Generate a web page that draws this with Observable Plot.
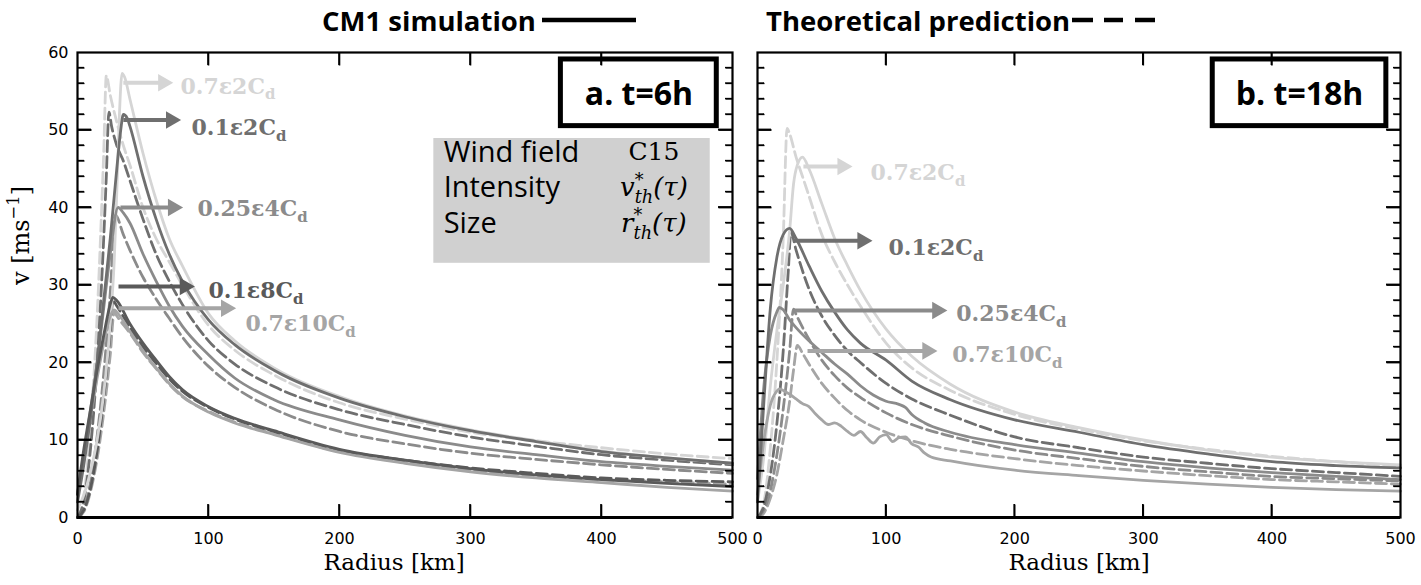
<!DOCTYPE html>
<html><head><meta charset="utf-8">
<script src="https://cdn.jsdelivr.net/npm/d3@7"></script>
<script src="https://cdn.jsdelivr.net/npm/@observablehq/plot@0.6"></script>
<style>
html,body{margin:0;padding:0;background:#fff;}
#fig{position:relative;width:1421px;height:585px;overflow:hidden;background:#fff;}
#fig > svg{position:absolute;top:0;}
</style></head><body><div id="fig"></div>
<script>
// ================= tick values =================
const xTickValues = [0, 100, 200, 300, 400, 500];
const xInnerTicks = [100, 200, 300, 400];
const yTickValues = [0, 10, 20, 30, 40, 50, 60];
const yMajorInner = [10, 20, 30, 40, 50];
const yMinorTicks = [2,4,6,8,12,14,16,18,22,24,26,28,32,34,36,38,42,44,46,48,52,54,56,58];

// ================= experiments =================
const expNames  = ["0.7ε2", "0.7ε10", "0.25ε4", "0.1ε2", "0.1ε8"];
const expColors = ["#d5d5d5", "#a5a5a5", "#8b8b8b", "#6f6f6f", "#5a5a5a"];

// ================= panel a (t = 6 h) =================
const rA_07e2_cm1 = [0, 5, 10, 15, 20, 25, 28, 30, 32, 34, 36, 40, 50, 60, 70, 80, 100, 120, 150, 200, 250, 300, 350, 400, 450, 500];
const vA_07e2_cm1 = [1, 3, 6, 10, 16, 25, 33, 42, 52, 57.3, 56.8, 54, 47, 41, 36, 32.5, 26.3, 22.8, 19.3, 15.6, 13.1, 11.3, 9.9, 8.6, 7.7, 7.0];
const rA_07e2_th  = [0, 5, 10, 15, 18, 20, 22, 25, 30, 35, 40, 50, 60, 70, 80, 100, 120, 150, 200, 250, 300, 350, 400, 450, 500];
const vA_07e2_th  = [0, 3, 12, 26, 38, 47, 57, 54.5, 51, 48, 45.5, 40, 36, 33, 30, 24.8, 21.6, 18.4, 14.8, 12.7, 11.0, 9.9, 9.0, 8.2, 7.6];
const rA_01e2_cm1 = [0, 5, 10, 15, 20, 25, 30, 33, 35, 38, 40, 50, 60, 70, 80, 100, 120, 150, 200, 250, 300, 350, 400, 450, 500];
const vA_01e2_cm1 = [2, 7, 13, 20, 28, 36, 45, 50, 52, 51.5, 50.5, 44, 38.5, 34, 30.5, 25.5, 22.3, 19, 15.4, 13, 11.2, 9.8, 8.5, 7.7, 7.0];
const rA_01e2_th  = [0, 5, 10, 15, 20, 22, 24, 26, 30, 35, 40, 50, 60, 70, 80, 100, 120, 150, 200, 250, 300, 350, 400, 450, 500];
const vA_01e2_th  = [0, 2.3, 9, 20, 36, 44, 52.3, 50.5, 48, 46, 43.5, 38.5, 34, 30.5, 27.5, 22.8, 19.8, 16.9, 13.9, 12, 10.4, 9.2, 8.1, 7.4, 6.8];
const rA_025e4_cm1 = [0, 5, 10, 15, 20, 25, 31, 35, 40, 50, 60, 70, 80, 100, 120, 150, 200, 250, 300, 350, 400, 450, 500];
const vA_025e4_cm1 = [3, 8, 14, 20, 27, 34, 40, 39.3, 38, 34, 30.5, 27.3, 24.7, 21, 18, 15.2, 12.6, 10.6, 9.1, 8.1, 7.2, 6.6, 6.1];
const rA_025e4_th  = [0, 5, 10, 15, 20, 25, 29, 35, 40, 50, 60, 70, 80, 100, 120, 150, 200, 250, 300, 350, 400, 450, 500];
const vA_025e4_th  = [0, 1.2, 4.6, 10.5, 18.5, 29, 39, 36.5, 34.5, 31, 28.2, 25.7, 23.3, 19.5, 16.8, 14, 11.1, 9.5, 8.3, 7.5, 6.8, 6.2, 5.7];
const rA_01e8_cm1 = [0, 5, 10, 15, 20, 25, 27, 30, 40, 50, 60, 70, 80, 100, 120, 150, 200, 250, 300, 350, 400, 450, 500];
const vA_01e8_cm1 = [3, 9, 14, 19, 23.5, 27.5, 28.4, 28, 25, 22.5, 20.3, 18.2, 16.5, 14.3, 12.8, 11.2, 8.8, 7.4, 6.3, 5.5, 4.9, 4.4, 4.0];
const rA_01e8_th  = [0, 5, 10, 15, 20, 25, 27, 30, 40, 50, 60, 70, 80, 100, 120, 150, 200, 250, 300, 350, 400, 450, 500];
const vA_01e8_th  = [0, 1, 3.8, 8.6, 15.4, 24, 28, 27.3, 24.5, 22, 19.9, 17.9, 16.3, 14.2, 12.7, 11.1, 8.7, 7.4, 6.4, 5.7, 5.1, 4.8, 4.6];
const rA_07e10_cm1 = [0, 5, 10, 15, 20, 25, 28, 30, 40, 50, 60, 70, 80, 100, 120, 150, 200, 250, 300, 350, 400, 450, 500];
const vA_07e10_cm1 = [3, 8, 13, 18, 22.5, 26, 26.8, 26.5, 24, 21.5, 19.3, 17.3, 15.7, 13.6, 12.2, 10.7, 8.4, 7.0, 5.9, 5.1, 4.5, 3.9, 3.4];
const rA_07e10_th  = [0, 5, 10, 15, 20, 25, 28, 30, 40, 50, 60, 70, 80, 100, 120, 150, 200, 250, 300, 350, 400, 450, 500];
const vA_07e10_th  = [0, 0.8, 3.4, 7.6, 13.5, 21, 26.5, 26, 23.8, 21.3, 19.2, 17.2, 15.6, 13.7, 12.3, 10.8, 8.5, 7.2, 6.1, 5.4, 4.9, 4.6, 4.3];

// ================= panel b (t = 18 h) =================
const rB_07e2_cm1 = [0, 5, 10, 15, 20, 25, 28, 31, 35, 40, 50, 60, 70, 80, 100, 120, 150, 200, 250, 300, 350, 400, 450, 500];
const vB_07e2_cm1 = [2, 8, 17, 24, 30, 37, 43, 45.5, 46.5, 45, 40.5, 36, 32.5, 29.3, 24.3, 20.8, 17.2, 13.6, 11.6, 10.0, 8.7, 7.8, 7.2, 6.8];
const rB_07e2_th  = [0, 5, 10, 15, 20, 23, 25, 30, 35, 40, 50, 60, 70, 80, 100, 120, 150, 200, 250, 300, 350, 400, 450, 500];
const vB_07e2_th  = [0, 2, 9, 20, 36, 50.2, 49.5, 46.5, 44, 41.5, 36.5, 33, 30, 27.3, 22.5, 19.3, 16.4, 13.3, 11.4, 9.9, 8.8, 7.9, 7.2, 6.6];
const rB_01e2_cm1 = [0, 5, 10, 15, 20, 25, 30, 40, 50, 60, 70, 80, 100, 120, 150, 200, 250, 300, 350, 400, 450, 500];
const vB_01e2_cm1 = [2, 15, 27, 33.5, 36.5, 37.3, 36, 32.5, 29.2, 26.5, 24.2, 22.5, 20.3, 17.6, 15.2, 12.6, 11.0, 9.4, 8.2, 7.2, 6.7, 6.4];
const rB_01e2_th  = [0, 5, 10, 15, 20, 24, 26, 30, 40, 50, 60, 70, 80, 100, 120, 150, 200, 250, 300, 350, 400, 450, 500];
const vB_01e2_th  = [0, 1.5, 5.5, 12, 21.5, 32, 36.8, 34.5, 29.5, 26, 23.5, 21.5, 20, 17.3, 15.3, 13.2, 10.4, 9.0, 7.8, 7.0, 6.3, 5.8, 5.3];
const rB_025e4_cm1 = [0, 5, 10, 15, 17, 20, 25, 30, 40, 50, 60, 70, 80, 90, 100, 110, 115, 120, 130, 150, 200, 250, 300, 350, 400, 450, 500];
const vB_025e4_cm1 = [5, 17, 23.5, 26.5, 27.1, 26.8, 25.5, 24.5, 22.8, 21.3, 19.8, 18.5, 17, 15.8, 15, 14.6, 14.2, 13.3, 12.2, 11, 9.4, 8.3, 7.2, 6.4, 5.8, 5.3, 4.9];
const rB_025e4_th  = [0, 5, 10, 15, 20, 25, 28, 30, 40, 50, 60, 70, 80, 100, 120, 150, 200, 250, 300, 350, 400, 450, 500];
const vB_025e4_th  = [0, 1, 3.5, 8, 14, 21.5, 26.9, 26.2, 23, 20.3, 18.3, 16.7, 15.5, 13.5, 12, 10.5, 8.7, 7.6, 6.6, 5.9, 5.3, 5.0, 4.7];
const rB_07e10_cm1 = [0, 5, 10, 15, 17, 20, 25, 30, 35, 40, 45, 50, 55, 60, 65, 70, 75, 80, 85, 90, 95, 100, 105, 110, 115, 120, 125, 130, 135, 150, 200, 250, 300, 350, 400, 450, 500];
const vB_07e10_cm1 = [3, 10, 14.5, 16.3, 16.6, 16.4, 15.9, 15.3, 14.7, 14.3, 13.4, 12.6, 12.0, 12.2, 11.8, 11.1, 10.6, 11.1, 10.3, 9.6, 10.4, 10.7, 9.8, 10.3, 10.4, 9.5, 9.1, 8.3, 7.8, 7.3, 6.1, 5.4, 4.8, 4.3, 3.9, 3.6, 3.4];
const rB_07e10_th  = [0, 5, 10, 15, 20, 25, 28, 31, 35, 40, 50, 60, 70, 80, 100, 120, 150, 200, 250, 300, 350, 400, 450, 500];
const vB_07e10_th  = [0, 0.6, 2.5, 5.5, 10, 15, 19, 22.2, 21.2, 19.8, 17.3, 15.4, 13.8, 12.6, 11, 9.9, 8.8, 7.6, 6.7, 6.0, 5.4, 4.9, 4.6, 4.3];

// ================= annotation text =================
const titleLeft = "CM1 simulation";
const titleRight = "Theoretical prediction";
const xLabel = "Radius [km]";
const yLabel = "v [ms^{−1}]";
const panelLabels = ["a. t=6h", "b. t=18h"];
const infoLabels = ["Wind field", "Intensity", "Size"];
const infoValues = ["C15", "v^{*}_{th}(τ)", "r^{*}_{th}(τ)"];

// annotation anchors (data coordinates: radius km, velocity m/s)
const annA_exp = ["0.7ε2", "0.1ε2", "0.25ε4", "0.1ε8", "0.7ε10"];
const annA_r1 = [35, 35, 32.8, 31.3, 31.3];
const annA_r2 = [71.5, 77.5, 79, 88, 119.5];
const annA_v  = [56.1, 51.3, 40, 29.8, 27];
const annA_lr = [78.6, 87, 91.6, 100, 128.2];
const annA_lv = [55.6, 50.2, 39.8, 29.2, 25];
const annB_exp = ["0.7ε2", "0.1ε2", "0.25ε4", "0.7ε10"];
const annB_r1 = [35.7, 28, 28, 38.9];
const annB_r2 = [72.3, 87.8, 146, 138.3];
const annB_v  = [45.3, 35.7, 26.7, 21.5];
const annB_lr = [87.8, 101.8, 154.6, 151.5];
const annB_lv = [44.4, 34.8, 26.2, 21.0];

// ================= build tables =================
const seriesList = [
  ["a", "0.7ε2", "th", rA_07e2_th, vA_07e2_th], ["a", "0.7ε2", "cm1", rA_07e2_cm1, vA_07e2_cm1],
  ["a", "0.7ε10", "th", rA_07e10_th, vA_07e10_th], ["a", "0.7ε10", "cm1", rA_07e10_cm1, vA_07e10_cm1],
  ["a", "0.25ε4", "th", rA_025e4_th, vA_025e4_th], ["a", "0.25ε4", "cm1", rA_025e4_cm1, vA_025e4_cm1],
  ["a", "0.1ε2", "th", rA_01e2_th, vA_01e2_th], ["a", "0.1ε2", "cm1", rA_01e2_cm1, vA_01e2_cm1],
  ["a", "0.1ε8", "th", rA_01e8_th, vA_01e8_th], ["a", "0.1ε8", "cm1", rA_01e8_cm1, vA_01e8_cm1],
  ["b", "0.7ε2", "th", rB_07e2_th, vB_07e2_th], ["b", "0.7ε2", "cm1", rB_07e2_cm1, vB_07e2_cm1],
  ["b", "0.7ε10", "th", rB_07e10_th, vB_07e10_th], ["b", "0.7ε10", "cm1", rB_07e10_cm1, vB_07e10_cm1],
  ["b", "0.25ε4", "th", rB_025e4_th, vB_025e4_th], ["b", "0.25ε4", "cm1", rB_025e4_cm1, vB_025e4_cm1],
  ["b", "0.1ε2", "th", rB_01e2_th, vB_01e2_th], ["b", "0.1ε2", "cm1", rB_01e2_cm1, vB_01e2_cm1]
];
const colorOf = e => expColors[expNames.indexOf(e)];

const H = 585, MT = 52, MB = 68;
const fig = document.getElementById("fig");

function makePanel(cfg) {
  const innerW = cfg.width - cfg.ml - cfg.mr;
  const innerH = H - MT - MB;
  const kmPx = 500 / innerW, vPx = 60 / innerH;
  const rows = [];
  seriesList.filter(s => s[0] === cfg.panel).forEach(([p, exp, kind, R, V]) =>
    R.forEach((r, i) => rows.push({key: exp + kind, kind, r, v: V[i], color: colorOf(exp)})));
  const ann = cfg.annExp.map((e, i) => ({label: e + "C_{d}", color: colorOf(e), r1: cfg.annR1[i], r2: cfg.annR2[i], v: cfg.annV[i], lr: cfg.annLR[i], lv: cfg.annLV[i]}));
  // tick segments (inward-pointing, all four sides)
  const tickSegs = [];
  xInnerTicks.forEach(t => {
    tickSegs.push({x1: t, x2: t, y1: 0, y2: 13 * vPx, w: 1.6});
    tickSegs.push({x1: t, x2: t, y1: 60 - 13 * vPx, y2: 60, w: 1.6});
  });
  yMajorInner.forEach(t => {
    tickSegs.push({x1: 0, x2: 14 * kmPx, y1: t, y2: t, w: 1.8});
    tickSegs.push({x1: 500 - 14 * kmPx, x2: 500, y1: t, y2: t, w: 1.8});
  });
  yMinorTicks.forEach(t => {
    tickSegs.push({x1: 0, x2: 7 * kmPx, y1: t, y2: t, w: 1.3});
    tickSegs.push({x1: 500 - 7 * kmPx, x2: 500, y1: t, y2: t, w: 1.3});
  });
  const marks = [];
  if (cfg.info) {
    marks.push(Plot.rect([cfg.info.box], {x1: "x1", x2: "x2", y1: "y1", y2: "y2", fill: "#d0d0d0"}));
    marks.push(Plot.text(infoLabels, {x: cfg.info.labelR, y: (d, i) => cfg.info.rowV[i], text: d => d, textAnchor: "start", fontFamily: "Open Sans", fontSize: 29, fill: "black"}));
    marks.push(Plot.text(infoValues.slice(0, 1), {x: cfg.info.valueR, y: (d, i) => cfg.info.rowV[i], text: d => d, fontFamily: "DejaVu Serif", fontSize: 25, fill: "black"}));
    marks.push(Plot.text(infoValues.slice(1), {x: cfg.info.valueR, y: (d, i) => cfg.info.rowV[i + 1], text: d => d, fontFamily: "DejaVu Serif", fontStyle: "italic", fontSize: 26, fill: "black"}));
  }
  marks.push(
    Plot.line(rows.filter(d => d.kind === "th"), {x: "r", y: "v", z: "key", stroke: "color", strokeWidth: 2.8, strokeDasharray: "11,5", curve: "monotone-x"}),
    Plot.line(rows.filter(d => d.kind === "cm1"), {x: "r", y: "v", z: "key", stroke: "color", strokeWidth: 2.8, curve: "monotone-x"}),
    // arrows
    Plot.link(ann, {x1: "r1", x2: d => d.r2 - 8 * kmPx, y1: "v", y2: "v", stroke: "color", strokeWidth: 4}),
    Plot.dot(ann, {x: d => d.r2 - 8 * kmPx, y: "v", symbol: "triangle", r: 6.5, fill: "color", stroke: "none", rotate: 90}),
    Plot.text(ann, {x: "lr", y: "lv", text: "label", fill: "color", textAnchor: "start", fontFamily: "DejaVu Serif", fontWeight: "bold", fontSize: 22}),
    // panel label box
    Plot.rect([cfg.tag.box], {x1: "x1", x2: "x2", y1: "y1", y2: "y2", fill: "white", stroke: "black", strokeWidth: 5}),
    Plot.text([cfg.tag.text], {x: cfg.tag.r, y: cfg.tag.v, text: d => d, fontFamily: "Open Sans", fontWeight: "bold", fontSize: 32, fill: "black"}),
    // ticks
    Plot.link(tickSegs, {x1: "x1", x2: "x2", y1: "y1", y2: "y2", stroke: "#000", strokeWidth: "w"}),
    Plot.frame({stroke: "black", strokeWidth: 2.2}),
    Plot.ruleY([0], {stroke: "black", strokeWidth: 3.2}),
    // axis titles
    Plot.text([xLabel], {frameAnchor: "bottom", dx: cfg.xLabelDx, dy: 52, text: d => d, fontFamily: "DejaVu Serif", fontSize: 23, fill: "black"})
  );
  if (cfg.showY) marks.push(Plot.text([yLabel], {frameAnchor: "left", dx: -56, rotate: -90, text: d => d, fontFamily: "DejaVu Serif", fontSize: 24, fill: "black"}));
  const svg = Plot.plot({
    width: cfg.width, height: H,
    marginLeft: cfg.ml, marginRight: cfg.mr, marginTop: MT, marginBottom: MB,
    x: {domain: [0, 500], ticks: xTickValues, tickSize: 0, tickPadding: 15, label: null},
    y: {domain: [0, 60], ticks: yTickValues, tickSize: 0, tickPadding: 9, label: null, axis: cfg.showY ? "left" : null},
    color: {type: "identity"},
    style: {fontFamily: "DejaVu Sans", fontSize: "16px", color: "black", background: "transparent", overflow: "visible"},
    marks
  });
  svg.style.left = cfg.left + "px";
  fig.appendChild(svg);
  // reinforce the inward ticks on top, positioned through Plot's own scales
  try {
    const xs = svg.scale("x"), ys = svg.scale("y");
    const g = d3.select(svg).append("g").attr("stroke", "#000");
    tickSegs.forEach(t => g.append("line")
      .attr("x1", xs.apply(t.x1)).attr("x2", xs.apply(t.x2))
      .attr("y1", ys.apply(t.y1)).attr("y2", ys.apply(t.y2))
      .attr("stroke-width", t.w));
  } catch (e) {}
}

makePanel({
  panel: "a", left: 0, width: 745, ml: 77, mr: 13, showY: true, xLabelDx: -11,
  annExp: annA_exp, annR1: annA_r1, annR2: annA_r2, annV: annA_v, annLR: annA_lr, annLV: annA_lv,
  tag: {box: {x1: 369, x2: 488, y1: 50.5, y2: 59.1}, text: panelLabels[0], r: 428.6, v: 54.6},
  info: {box: {x1: 272, x2: 483, y1: 32.8, y2: 48.9}, labelR: 279.5, valueR: 440, rowV: [47.1, 42.5, 37.9]}
});
makePanel({
  panel: "b", left: 745, width: 676, ml: 12, mr: 21, showY: false, xLabelDx: 0,
  annExp: annB_exp, annR1: annB_r1, annR2: annB_r2, annV: annB_v, annLR: annB_lr, annLV: annB_lv,
  tag: {box: {x1: 354, x2: 489, y1: 50.5, y2: 59.1}, text: panelLabels[1], r: 421.5, v: 54.6},
  info: null
});

// ================= titles =================
const tsvg = d3.select(fig).append("svg").attr("width", 1421).attr("height", 48).style("left", "0px");
tsvg.append("text").attr("x", 322).attr("y", 31).attr("font-family", "Open Sans").attr("font-weight", 700).attr("font-size", 27.5).text(titleLeft);
tsvg.append("line").attr("x1", 542).attr("x2", 636).attr("y1", 20).attr("y2", 20).attr("stroke", "black").attr("stroke-width", 4.5);
tsvg.append("text").attr("x", 766).attr("y", 31).attr("font-family", "Open Sans").attr("font-weight", 700).attr("font-size", 27.5).text(titleRight);
[[1072, 1093], [1104, 1123], [1135, 1155]].forEach(([a, b]) =>
  tsvg.append("line").attr("x1", a).attr("x2", b).attr("y1", 20).attr("y2", 20).attr("stroke", "black").attr("stroke-width", 4.5));

// ================= rich text (sub/superscripts) =================
function applyRich(root) {
  root.querySelectorAll("text").forEach(el => {
    const raw = el.textContent;
    if (!/[_^]\{/.test(raw)) return;
    const fs = parseFloat(getComputedStyle(el).fontSize);
    const parts = [];
    const re = /([_^])\{([^}]*)\}|([^_^]+)/g;
    let m;
    while ((m = re.exec(raw))) parts.push(m[3] !== undefined ? {t: m[3], k: "n"} : {t: m[2], k: m[1]});
    el.textContent = "";
    let shift = 0, prevSup = null;
    for (const p of parts) {
      const ts = document.createElementNS("http://www.w3.org/2000/svg", "tspan");
      const target = p.k === "^" ? -0.42 * fs : p.k === "_" ? 0.26 * fs : 0;
      ts.setAttribute("dy", target - shift);
      shift = target;
      if (p.k !== "n") ts.setAttribute("font-size", 0.68 * fs);
      ts.textContent = p.t;
      el.appendChild(ts);
      if (p.k === "_" && prevSup) ts.setAttribute("dx", -prevSup.getComputedTextLength());
      prevSup = p.k === "^" ? ts : null;
    }
  });
}
applyRich(fig);
</script></body></html>
